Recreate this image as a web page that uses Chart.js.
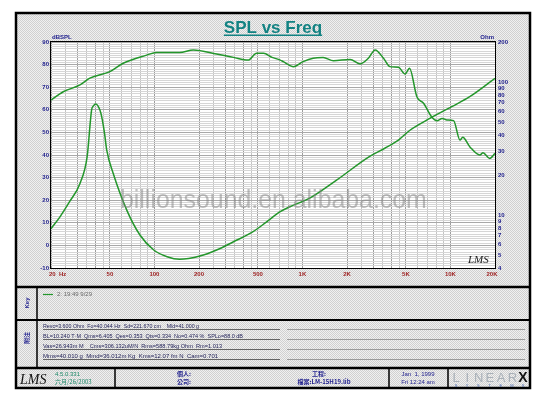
<!DOCTYPE html>
<html>
<head>
<meta charset="utf-8">
<script src="https://cdn.jsdelivr.net/npm/chart.js@4.4.1/dist/chart.umd.min.js"></script>
<style>
  html, body { margin: 0; padding: 0; background: #fff; }
  canvas { display: block; }
</style>
</head>
<body>
<canvas id="splChart" width="547" height="399"></canvas>
<script>
// SPL response, dB (left axis)
const splFreq = [20, 24.2, 31.4, 36.6, 50, 61.5, 88.6, 103, 148, 183, 263, 342, 430, 490, 546, 623, 708, 742, 870, 1010, 1180, 1380, 1620, 2100, 2450, 2790, 3100, 3530, 3900, 4450, 4940, 5290, 5930, 6580, 7490, 8110, 8790, 9460, 10500, 11600, 12100, 13500, 15800, 16600, 18400, 20000];
const splDb = [64.3, 68, 71, 74, 76.9, 80.6, 84.2, 85.4, 85.4, 86.5, 84.7, 83.2, 82, 85, 85, 83.2, 82, 81.3, 79.1, 81.3, 82.8, 83.1, 81.7, 82.3, 80.3, 82.8, 86.5, 82.8, 79.1, 78.8, 75.8, 78.4, 65.8, 62.9, 56.7, 55.2, 56.2, 55.5, 55.2, 46.6, 47.8, 43.7, 40, 41, 38.5, 40.7];

// impedance, Ohm (right axis)
const impFreq = [20, 23, 26.7, 31.4, 35.1, 37.6, 38.6, 40.2, 42.8, 44, 46, 47.6, 52.6, 65, 79.8, 98.9, 121.8, 148, 203, 263, 342, 464, 573, 708, 830, 1120, 1700, 2830, 3600, 4450, 5350, 7260, 10200, 13500, 20000];
const impOhm = [7.9, 9.7, 12.6, 17.3, 27.5, 61.6, 66, 68.4, 61.6, 54.9, 41.1, 30.8, 20.6, 10.9, 7.08, 5.46, 4.86, 4.65, 4.92, 5.46, 6.3, 7.5, 8.9, 10.6, 11.6, 13.4, 18.3, 27.5, 31.8, 36.6, 43.6, 53.3, 65.3, 77.6, 106.7];

// axis labels
const freqTicks = [20, 50, 100, 200, 500, 1000, 2000, 5000, 10000, 20000];
const freqLabels = ['20  Hz', '50', '100', '200', '500', '1K', '2K', '5K', '10K', '20K'];
const dbTicks = [90, 80, 70, 60, 50, 40, 30, 20, 10, 0, -10];
const ohmTicks = [200, 100, 90, 80, 70, 60, 50, 40, 30, 20, 10, 9, 8, 7, 6, 5, 4];

const notes = [
  'Revc=3.600 Ohm  Fo=40.044 Hz  Sd=221.670 cm    Mld=41.000 g',
  'BL=10.240 T·M  Qms=6.405  Qes=0.353  Qts=0.334  No=0.474 %  SPLo=88.0 dB',
  'Vas=26.943m M    Cms=306.132uM/N  Rms=588.79kg Ohm  Rm=1.013',
  'Mms=40.010 g  Mmd=36.012m Kg  Kms=12.07 fm N  Cam=0.701'
];
const noteWidths = [156, 200, 179, 190];

// grid lines: 2, 2.5 ... 10 per decade
const gridMult = [2, 2.5, 3, 3.5, 4, 4.5, 5, 6, 7, 8, 9, 10];
const freqGrid = [];
[10, 100, 1000].forEach(d => gridMult.forEach(m => freqGrid.push(m * d)));
freqGrid.push(20000);

const GREEN = '#23962b';
const NAVY = '#1c1c8c';
const SANS = '"Liberation Sans", Arial, sans-serif';

// dithered grey background
const pat = document.createElement('canvas');
pat.width = 2; pat.height = 2;
const pc = pat.getContext('2d');
pc.fillStyle = '#f0f0f0'; pc.fillRect(0, 0, 2, 2);
pc.fillStyle = '#d0d0d0'; pc.fillRect(0, 0, 1, 1); pc.fillRect(1, 1, 1, 1);

function hline(c, x1, x2, y, w, col) {
  c.strokeStyle = col || '#000'; c.lineWidth = w;
  c.beginPath(); c.moveTo(x1, y); c.lineTo(x2, y); c.stroke();
}
function vline(c, x, y1, y2, w, col) {
  c.strokeStyle = col || '#000'; c.lineWidth = w;
  c.beginPath(); c.moveTo(x, y1); c.lineTo(x, y2); c.stroke();
}

const framePlugin = {
  id: 'lmsFrame',
  beforeDraw(chart) {
    const c = chart.ctx, a = chart.chartArea;
    c.save();
    c.fillStyle = '#fff';
    c.fillRect(0, 0, chart.width, chart.height);
    c.fillStyle = c.createPattern(pat, 'repeat');
    c.fillRect(16, 13, 514, 375);
    c.fillStyle = '#fff';
    c.fillRect(a.left, a.top, a.right - a.left, a.bottom - a.top);

    // title
    c.font = 'bold 17px ' + SANS;
    c.fillStyle = '#128282';
    c.textAlign = 'center';
    c.textBaseline = 'alphabetic';
    c.fillText('SPL vs Freq', 273, 33);
    const tw = c.measureText('SPL vs Freq').width;
    c.fillRect(273 - tw / 2, 34.5, tw, 1.5);
    c.restore();
  },
  afterDraw(chart) {
    const c = chart.ctx, a = chart.chartArea;
    const sx = chart.scales.x, sy = chart.scales.y, sy1 = chart.scales.y1;
    c.save();

    // watermark
    c.font = '27px ' + SANS;
    const ww = c.measureText('billionsound.en.alibaba.com').width;
    c.font = (27 * 307 / ww).toFixed(2) + 'px ' + SANS;
    c.fillStyle = 'rgba(130,130,130,0.5)';
    c.textAlign = 'left';
    c.textBaseline = 'alphabetic';
    c.fillText('billionsound.en.alibaba.com', 120, 208);

    // plot border
    c.strokeStyle = '#000';
    c.lineWidth = 1;
    c.strokeRect(a.left - 0.5, a.top - 0.5, a.right - a.left + 1, a.bottom - a.top + 1);

    // left ticks
    c.font = 'bold 6px ' + SANS;
    c.fillStyle = NAVY;
    c.textAlign = 'right';
    c.textBaseline = 'middle';
    dbTicks.forEach(v => c.fillText(String(v), a.left - 2, sy.getPixelForValue(v)));
    c.textAlign = 'left';
    c.textBaseline = 'alphabetic';
    c.fillText('dBSPL', a.left + 1, a.top - 3);

    // right ticks
    c.textBaseline = 'middle';
    ohmTicks.forEach(v => c.fillText(String(v), a.right + 3, sy1.getPixelForValue(v)));
    c.textAlign = 'right';
    c.textBaseline = 'alphabetic';
    c.fillText('Ohm', a.right - 1, a.top - 3);

    // bottom ticks
    c.fillStyle = '#9c1c1c';
    c.textBaseline = 'middle';
    freqTicks.forEach((v, i) => {
      const px = sx.getPixelForValue(v);
      if (i === 0) { c.textAlign = 'left'; c.fillText(freqLabels[i], px - 2, a.bottom + 6); }
      else if (i === freqTicks.length - 1) { c.textAlign = 'center'; c.fillText(freqLabels[i], px - 3, a.bottom + 6); }
      else { c.textAlign = 'center'; c.fillText(freqLabels[i], px, a.bottom + 6); }
    });

    // LMS mark in plot
    c.font = 'italic 11px "Liberation Serif", serif';
    c.fillStyle = '#222';
    c.textAlign = 'left';
    c.textBaseline = 'alphabetic';
    c.fillText('LMS', 468, 263);

    // frame and panels
    c.strokeStyle = '#000';
    c.lineWidth = 2.5;
    c.strokeRect(16, 13, 514, 375);
    hline(c, 16, 530, 287, 2.5);
    hline(c, 16, 530, 320, 2);
    hline(c, 16, 530, 368, 2.5);
    vline(c, 37, 287, 368, 1.5);
    vline(c, 115, 368, 388, 1.5);
    vline(c, 389, 368, 388, 1.5);
    vline(c, 448, 368, 388, 1.5);

    // side labels
    c.fillStyle = NAVY;
    c.font = 'bold 6px ' + SANS;
    c.textAlign = 'center';
    c.textBaseline = 'middle';
    c.save(); c.translate(27, 303); c.rotate(-Math.PI / 2); c.fillText('Key', 0, 0); c.restore();
    c.font = 'bold 6px "Noto Sans CJK TC", sans-serif';
    c.save(); c.translate(27, 338); c.rotate(-Math.PI / 2); c.fillText('附注', 0, 0); c.restore();

    // key entry
    hline(c, 43, 53, 294.5, 1.2, GREEN);
    c.font = '6px ' + SANS;
    c.fillStyle = '#6a6a6a';
    c.textAlign = 'left';
    c.fillText('2: 19:49 9/29', 57, 294.5);

    // notes
    c.font = '6px ' + SANS;
    c.fillStyle = '#24245a';
    c.textBaseline = 'alphabetic';
    notes.forEach((t, i) => {
      const y = 329 + i * 10;
      c.fillText(t, 43, y - 1, noteWidths[i]);
      hline(c, 43, 280, y + 0.5, 0.8, '#444');
      hline(c, 287, 525, y + 0.5, 0.8, '#888');
    });

    // footer
    c.font = 'italic 14px "Liberation Serif", serif';
    c.fillStyle = '#111';
    c.fillText('LMS', 20, 384);
    c.font = '6px ' + SANS;
    c.fillStyle = '#1f8a6a';
    c.fillText('4.5.0.331', 55, 376);
    c.font = '6px "Noto Sans CJK TC", sans-serif';
    c.fillText('六月/26/2003', 55, 384);

    c.fillStyle = NAVY;
    c.textAlign = 'center';
    c.font = 'bold 6px "Noto Sans CJK TC", sans-serif';
    c.fillText('個人:', 184, 376);
    c.fillText('公司:', 184, 384);
    c.fillText('工程:', 319, 376);
    c.fillText('檔案:LM-15H19.lib', 324, 384);
    c.font = '6px ' + SANS;
    c.fillText('Jan  1, 1999', 418, 376);
    c.fillText('Fri 12:24 am', 418, 384);

    // LINEARX logo
    c.font = '13px ' + SANS;
    c.fillStyle = '#a8b0b8';
    c.textAlign = 'center';
    'LINEAR'.split('').forEach((ch, i) => c.fillText(ch, 456 + i * 11.3, 382));
    c.font = 'bold 14px ' + SANS;
    c.fillStyle = '#111';
    c.fillText('X', 523, 382);
    c.font = '4px ' + SANS;
    c.fillStyle = '#4a6ab0';
    'SYSTEMS'.split('').forEach((ch, i) => c.fillText(ch, 456 + i * 11.2, 387));

    c.restore();
  }
};

const ctx = document.getElementById('splChart').getContext('2d');
new Chart(ctx, {
  type: 'line',
  data: {
    datasets: [{
      label: 'SPL',
      data: splFreq.map((f, i) => ({ x: f, y: splDb[i] })),
      yAxisID: 'y',
      borderColor: GREEN,
      borderWidth: 1.5,
      pointRadius: 0,
      cubicInterpolationMode: 'monotone'
    }, {
      label: 'Impedance',
      data: impFreq.map((f, i) => ({ x: f, y: impOhm[i] })),
      yAxisID: 'y1',
      borderColor: GREEN,
      borderWidth: 1.5,
      pointRadius: 0,
      cubicInterpolationMode: 'monotone'
    }]
  },
  options: {
    responsive: false,
    animation: false,
    devicePixelRatio: 1,
    layout: { padding: { left: 51, top: 42, right: 52, bottom: 131 } },
    plugins: { legend: { display: false }, tooltip: { enabled: false } },
    scales: {
      x: {
        type: 'logarithmic',
        min: 20,
        max: 20000,
        afterBuildTicks: s => { s.ticks = freqGrid.map(v => ({ value: v })); },
        ticks: { display: false },
        border: { display: false },
        grid: {
          drawTicks: false,
          lineWidth: 1,
          color: ctx => {
            const v = ctx.tick ? ctx.tick.value : 0;
            const m = v / Math.pow(10, Math.floor(Math.log10(v) + 1e-9));
            return [1, 2, 3, 4, 5].includes(Math.round(m * 10) / 10) ? '#9c9c9c' : '#c4c4c4';
          }
        }
      },
      y: {
        type: 'linear',
        min: -10,
        max: 90,
        afterBuildTicks: s => {
          const t = [];
          for (let v = -10; v <= 90; v++) t.push({ value: v });
          s.ticks = t;
        },
        ticks: { display: false },
        border: { display: false },
        grid: {
          drawTicks: false,
          lineWidth: 1,
          color: ctx => (ctx.tick && ctx.tick.value % 10 === 0) ? '#a8a8a8' : '#d6d6d6'
        }
      },
      y1: {
        type: 'logarithmic',
        position: 'right',
        min: 4,
        max: 200,
        ticks: { display: false },
        border: { display: false },
        grid: { display: false, drawTicks: false }
      }
    }
  },
  plugins: [framePlugin]
});
</script>
</body>
</html>
